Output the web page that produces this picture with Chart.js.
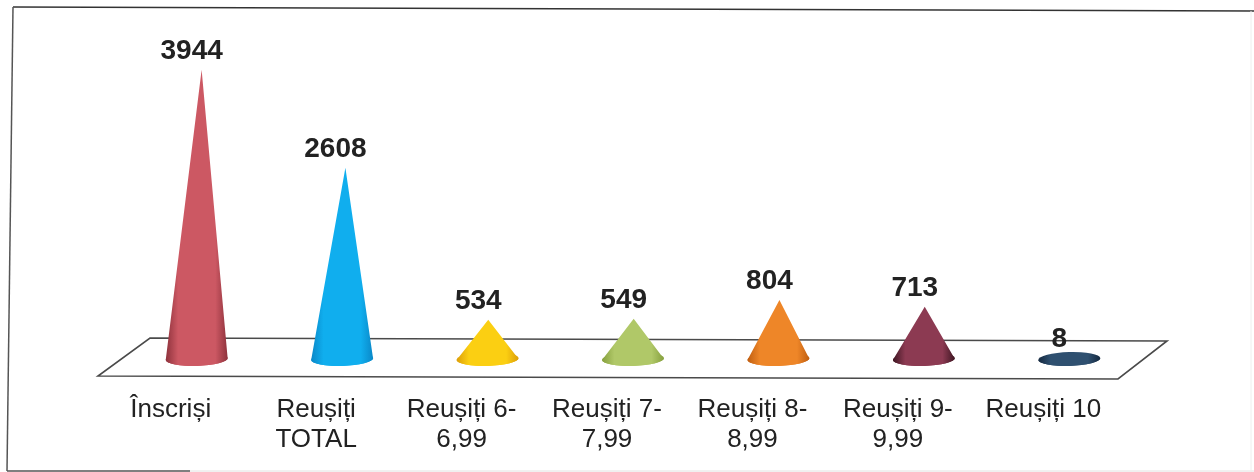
<!DOCTYPE html>
<html>
<head>
<meta charset="utf-8">
<style>
  html, body { margin: 0; padding: 0; background: #fff; }
  #wrap { width: 1254px; height: 472px; }
</style>
<script src="https://cdn.jsdelivr.net/npm/chart.js@4/dist/chart.umd.min.js"></script>
</head>
<body>
<div id="wrap"><canvas id="cones"></canvas></div>
<script>
const categories = ["Înscriși", ["Reușiți", "TOTAL"], ["Reușiți 6-", "6,99"], ["Reușiți 7-", "7,99"], ["Reușiți 8-", "8,99"], ["Reușiți 9-", "9,99"], "Reușiți 10"];
const values = [3944, 2608, 534, 549, 804, 713, 8];
const coneMid = ["#cc5863", "#10aeee", "#fbcf12", "#b0c868", "#ee8628", "#8c3a52", "#2f5070"];
const coneEdge = ["#8e323c", "#0a88c8", "#dc9e08", "#86a03e", "#c05e10", "#3e1622", "#14283f"];

const coneRx = 31, coneRy = 7;

function line(ctx, x1, y1, x2, y2, color, width) {
  ctx.strokeStyle = color;
  ctx.lineWidth = width;
  ctx.beginPath();
  ctx.moveTo(x1, y1);
  ctx.lineTo(x2, y2);
  ctx.stroke();
}

// frame + floor go under the cones
const floorPlugin = {
  id: "floor",
  beforeDatasetsDraw(chart) {
    const { ctx, chartArea: a } = chart;
    const base = a.bottom;
    ctx.save();
    // the frame is a scan: slightly skewed, right and bottom fade out
    line(ctx, 13, 7, 1254, 11, "#333", 1.5);
    line(ctx, 13, 7, 7, 471, "#555", 1.5);
    line(ctx, 190, 471, 1254, 471, "#e2e2e2", 1);
    line(ctx, 7, 471, 190, 471, "#555", 1.5);
    line(ctx, 1251, 11, 1251, 471, "#eee", 1);

    ctx.strokeStyle = "#4a4a4a";
    ctx.lineWidth = 1.6;
    ctx.beginPath();
    ctx.moveTo(a.left - 26, base + 17);
    ctx.lineTo(a.right - 24, base + 20);
    ctx.lineTo(a.right + 25, base - 18);
    ctx.lineTo(a.left + 26, base - 21);
    ctx.closePath();
    ctx.stroke();
    ctx.restore();
  }
};

// bars are invisible, each one is drawn again as a cone from its own x / y / base
const conePlugin = {
  id: "cone",
  afterDatasetsDraw(chart) {
    const { ctx } = chart;
    chart.getDatasetMeta(0).data.forEach((bar, i) => {
      const cy = bar.base;
      const tipX = bar.x + (cy - bar.y) * 0.017; // tall cones lean a bit to the right
      const grad = ctx.createLinearGradient(bar.x - coneRx, 0, bar.x + coneRx, 0);
      grad.addColorStop(0, coneEdge[i]);
      grad.addColorStop(0.2, coneMid[i]);
      grad.addColorStop(0.8, coneMid[i]);
      grad.addColorStop(1, coneEdge[i]);
      ctx.save();
      ctx.fillStyle = grad;
      ctx.beginPath();
      ctx.ellipse(bar.x, cy, coneRx, coneRy, -0.03, 0, Math.PI * 2);
      ctx.fill();
      ctx.beginPath();
      ctx.moveTo(tipX, bar.y);
      ctx.lineTo(bar.x + coneRx, cy);
      ctx.ellipse(bar.x, cy, coneRx, coneRy, -0.03, 0, Math.PI);
      ctx.closePath();
      ctx.fill();
      ctx.fillStyle = "#222";
      ctx.font = "bold 28px 'Liberation Sans'";
      ctx.textAlign = "center";
      ctx.textBaseline = "alphabetic";
      ctx.fillText(values[i], tipX - 10, bar.y - 11);
      ctx.restore();
    });
  }
};

new Chart(document.getElementById("cones"), {
  type: "bar",
  data: {
    labels: categories,
    datasets: [{ data: values, backgroundColor: "transparent" }]
  },
  options: {
    responsive: true,
    maintainAspectRatio: false,
    animation: false,
    layout: { padding: { left: 124, right: 112, top: 29, bottom: 0 } },
    plugins: { legend: { display: false }, tooltip: { enabled: false } },
    scales: {
      x: {
        afterFit(scale) { scale.height = 113; },
        grid: { display: false },
        border: { display: false },
        ticks: {
          color: "#222",
          maxRotation: 0,
          autoSkip: false,
          padding: 28,
          labelOffset: -26,
          font: { family: "'Liberation Sans'", size: 26, lineHeight: 1.16 }
        }
      },
      y: { display: false, min: 0, max: 4500 }
    }
  },
  plugins: [floorPlugin, conePlugin]
});
</script>
</body>
</html>
